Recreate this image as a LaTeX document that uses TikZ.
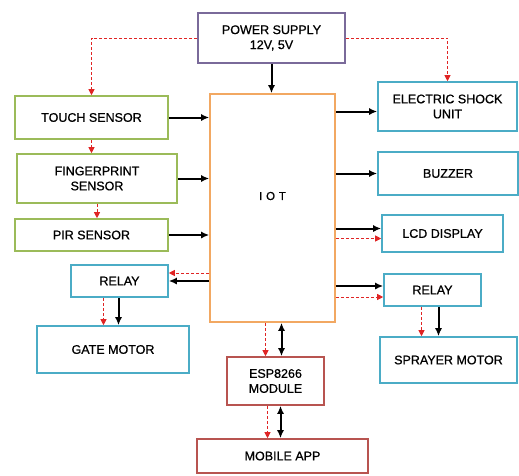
\documentclass[tikz,border=0pt]{standalone}
\usepackage{fontspec}
\setmainfont{Liberation Sans}
\newfontfamily\boxfont{Liberation Sans}[FakeBold=0.8]
\usetikzlibrary{arrows.meta,positioning,calc}
\definecolor{sensgreen}{HTML}{9BBB59}
\definecolor{actteal}{HTML}{4BACC6}
\definecolor{iotorange}{HTML}{F2A862}
\definecolor{pwrpurple}{HTML}{7A6A9A}
\definecolor{netred}{HTML}{B85450}
\definecolor{sigred}{HTML}{E02424}
\tikzset{
  bloc/.style={rectangle, draw=#1, line width=1.6pt, fill=white, align=center,
               font=\boxfont\fontsize{12.5}{15}\selectfont, inner sep=2pt},
  arr/.style={-{Latex[length=8pt,width=7pt]}, line width=2pt, draw=black},
  darr/.style={{Latex[length=8pt,width=7pt]}-{Latex[length=8pt,width=7pt]}, line width=2pt, draw=black},
  sig/.style={-{Triangle[length=6pt,width=6pt]}, line width=1pt, draw=sigred, dash pattern=on 3pt off 2pt},
}

\begin{document}
\begin{tikzpicture}[x=1pt, y=-1pt]
\useasboundingbox (0,0) rectangle (519,475);
% blocks
\node[bloc=pwrpurple, minimum width=147pt, minimum height=50pt] (power) at (271.5,38) {POWER SUPPLY\\12V, 5V};
\node[bloc=iotorange, minimum width=125pt, minimum height=228pt] (iot) at (272.5,208) {};
\node[font=\boxfont\fontsize{11.5}{13}\selectfont] (iottxt) at (272.5,196) {I\,\,O\,\,T};
\node[bloc=sensgreen, minimum width=153pt, minimum height=43pt] (touch) at (91.5,117.5) {TOUCH SENSOR};
\node[bloc=sensgreen, minimum width=160pt, minimum height=49pt] (finger) at (97,178.5) {FINGERPRINT\\SENSOR};
\node[bloc=sensgreen, minimum width=153pt, minimum height=32pt] (pir) at (91.5,235) {PIR SENSOR};
\node[bloc=actteal, minimum width=97pt, minimum height=32pt] (relayL) at (119.5,281) {RELAY};
\node[bloc=actteal, minimum width=152pt, minimum height=47pt] (gate) at (113,349.5) {GATE MOTOR};
\node[bloc=actteal, minimum width=139pt, minimum height=49pt] (shock) at (447.5,106.5) {ELECTRIC SHOCK\\UNIT};
\node[bloc=actteal, minimum width=140pt, minimum height=43pt] (buzzer) at (448,173.5) {BUZZER};
\node[bloc=actteal, minimum width=121pt, minimum height=37pt] (lcd) at (442.5,233.5) {LCD DISPLAY};
\node[bloc=actteal, minimum width=97pt, minimum height=32pt] (relayR) at (432.5,290) {RELAY};
\node[bloc=actteal, minimum width=137pt, minimum height=46pt] (sprayer) at (448.5,360) {SPRAYER MOTOR};
\node[bloc=netred, minimum width=97pt, minimum height=48pt] (esp) at (275.5,381) {ESP8266\\MODULE};
\node[bloc=netred, minimum width=171pt, minimum height=34pt] (mobile) at (282.5,456) {MOBILE APP};

% supply lines
\draw[arr] (power.south) -- (power.south |- iot.north);
\draw[sig] (power.west) -| (touch.north);
\draw[sig] (power.east) -| (shock.north);
\draw[sig] (touch.south) -- (touch.south |- finger.north);
\draw[sig] (finger.south) -- (finger.south |- pir.north);

% inputs
\draw[arr] (touch.east) -- (touch.east -| iot.west);
\draw[arr] (finger.east) -- (finger.east -| iot.west);
\draw[arr] (pir.east) -- (pir.east -| iot.west);

% outputs left
\coordinate (rlp) at ($(relayL.east)+(0,-8)$);
\draw[sig] (iot.west |- rlp) -- (rlp);
\draw[arr] (iot.west |- relayL.east) -- (relayL.east);
\coordinate (gm1) at ($(relayL.south)+(-16,0)$);
\coordinate (gm2) at ($(relayL.south)+(-1,0)$);
\draw[sig] (gm1) -- (gm1 |- gate.north);
\draw[arr] (gm2) -- (gm2 |- gate.north);

% outputs right
\coordinate (sh) at ($(shock.west)+(0,5)$);
\draw[arr] (iot.east |- sh) -- (sh);
\draw[arr] (iot.east |- buzzer.west) -- (buzzer.west);
\coordinate (lc1) at ($(lcd.west)+(0,-5)$);
\coordinate (lc2) at ($(lcd.west)+(0,5)$);
\draw[arr] (iot.east |- lc1) -- (lc1);
\draw[sig] (iot.east |- lc2) -- (lc2);
\coordinate (rr1) at ($(relayR.west)+(0,-4)$);
\coordinate (rr2) at ($(relayR.west)+(0,7)$);
\draw[arr] (iot.east |- rr1) -- (rr1);
\draw[sig] (iot.east |- rr2) -- (rr2);
\coordinate (sp1) at ($(relayR.south)+(-11,0)$);
\coordinate (sp2) at ($(relayR.south)+(6,0)$);
\draw[sig] (sp1) -- (sp1 |- sprayer.north);
\draw[arr] (sp2) -- (sp2 |- sprayer.north);

% network
\coordinate (es1) at ($(esp.north)+(-10,0)$);
\coordinate (es2) at ($(esp.north)+(6,0)$);
\draw[sig] (es1 |- iot.south) -- (es1);
\draw[darr] (es2 |- iot.south) -- (es2);
\coordinate (mb1) at ($(esp.south)+(-8,0)$);
\coordinate (mb2) at ($(esp.south)+(5,0)$);
\draw[sig] (mb1) -- (mb1 |- mobile.north);
\draw[darr] (mb2) -- (mb2 |- mobile.north);
\end{tikzpicture}
\end{document}
